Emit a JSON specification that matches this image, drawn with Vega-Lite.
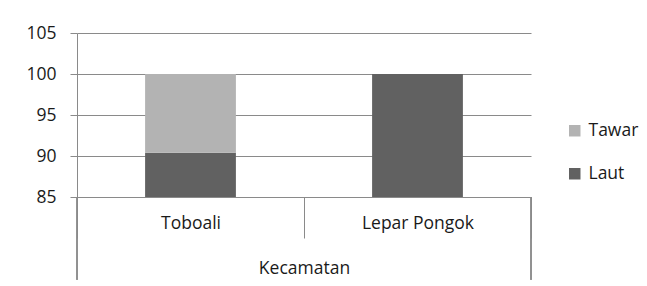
{
  "$schema": "https://vega.github.io/schema/vega-lite/v6.json",
  "autosize": {"type": "none"},
  "padding": {"left": 77, "top": 33, "right": 116, "bottom": 89},
  "width": 454,
  "height": 164,
  "background": "white",
  "config": {
    "view": {"stroke": null},
    "font": "Open Sans",
    "axis": {"labelFont": "Open Sans", "titleFont": "Open Sans", "labelColor": "#1a1a1a", "titleColor": "#1a1a1a", "labelFontSize": 17.5, "titleFontSize": 17.5, "titleFontWeight": "normal"},
    "legend": {"labelFont": "Open Sans", "labelFontSize": 17.5, "labelColor": "#1a1a1a"}
  },
  "data": {
    "values": [
      {"kecamatan": "Toboali", "jenis": "Laut", "nilai": 90.4},
      {"kecamatan": "Toboali", "jenis": "Tawar", "nilai": 9.6},
      {"kecamatan": "Lepar Pongok", "jenis": "Laut", "nilai": 100},
      {"kecamatan": "Lepar Pongok", "jenis": "Tawar", "nilai": 0}
    ]
  },
  "layer": [
    {
      "mark": {"type": "bar", "clip": true, "width": {"band": 0.4}},
      "encoding": {
        "x": {
          "field": "kecamatan", "type": "nominal", "sort": ["Toboali", "Lepar Pongok"],
          "scale": {"paddingInner": 0, "paddingOuter": 0},
          "axis": {"title": "Kecamatan", "labelAngle": 0, "labelAlign": "center", "domain": false, "ticks": true, "tickBand": "extent", "tickSize": 41, "tickColor": "#8a8a8a", "labelPadding": -24, "titlePadding": 21, "grid": false}
        },
        "y": {
          "field": "nilai", "type": "quantitative", "stack": "zero",
          "scale": {"domain": [85, 105], "nice": false, "zero": false},
          "axis": {"title": null, "values": [85, 90, 95, 100, 105], "grid": true, "gridColor": "#8a8a8a", "gridOpacity": 1, "domainColor": "#8a8a8a", "tickColor": "#8a8a8a", "tickSize": 7, "labelPadding": 14}
        },
        "color": {
          "field": "jenis", "type": "nominal",
          "scale": {"domain": ["Tawar", "Laut"], "range": ["#b3b3b3", "#616161"]},
          "legend": {"title": null, "orient": "none", "legendX": 489, "legendY": 89, "symbolType": "square", "symbolSize": 132, "symbolStrokeWidth": 0, "rowPadding": 24, "labelOffset": 5, "padding": 0}
        },
        "order": {"field": "jenis", "sort": "ascending"}
      }
    },
    {
      "mark": {"type": "rule", "color": "#8a8a8a", "strokeWidth": 1},
      "encoding": {
        "x": {"datum": "Toboali", "type": "nominal", "bandPosition": 0},
        "y": {"datum": 85, "type": "quantitative"},
        "y2": {"datum": 74.9}
      }
    },
    {
      "mark": {"type": "rule", "color": "#8a8a8a", "strokeWidth": 1},
      "encoding": {
        "x": {"datum": "Lepar Pongok", "type": "nominal", "bandPosition": 1},
        "y": {"datum": 85, "type": "quantitative"},
        "y2": {"datum": 74.9}
      }
    }
  ]
}
